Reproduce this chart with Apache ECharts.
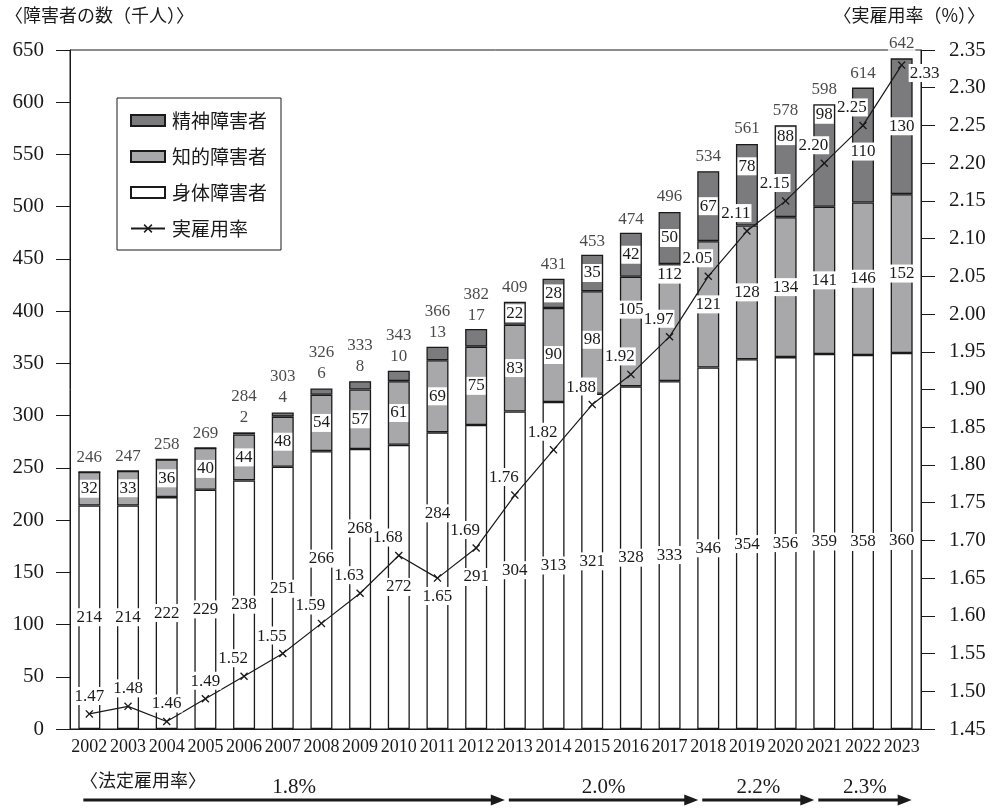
<!DOCTYPE html>
<html>
<head>
<meta charset="utf-8">
<script src="https://cdn.jsdelivr.net/npm/echarts@6.0.0/dist/echarts.min.js"></script>
<style>
  html, body { margin: 0; padding: 0; background: #fff; }
  #chart { width: 993px; height: 812px; }
</style>
</head>
<body>
<div id="chart"></div>
<script>
// 障害者の雇用状況（各年6月1日現在）
const years = ['2002','2003','2004','2005','2006','2007','2008','2009','2010','2011','2012',
               '2013','2014','2015','2016','2017','2018','2019','2020','2021','2022','2023'];
const physical     = [214,214,222,229,238,251,266,268,272,284,291,304,313,321,328,333,346,354,356,359,358,360];
const intellectual = [32,33,36,40,44,48,54,57,61,69,75,83,90,98,105,112,121,128,134,141,146,152];
const mental       = [0,0,0,0,2,4,6,8,10,13,17,22,28,35,42,50,67,78,88,98,110,130];
// 合計（千人、公表値。端数処理のため内訳の和と1違う年がある）
const totals       = [246,247,258,269,284,303,326,333,343,366,382,409,431,453,474,496,534,561,578,598,614,642];
const employmentRate = [1.47,1.48,1.46,1.49,1.52,1.55,1.59,1.63,1.68,1.65,1.69,1.76,1.82,1.88,1.92,1.97,2.05,2.11,2.15,2.20,2.25,2.33];

// 法定雇用率の区分
const legalRateLabels = ['1.8%','2.0%','2.2%','2.3%'];
const legalRateFrom   = ['2002','2013','2018','2021'];

// 軸の範囲
const countAxis = { min: 0, max: 650, interval: 50 };
const rateAxis  = { min: 1.45, max: 2.35, interval: 0.05 };

const seriesNames = { mental: '精神障害者', intellectual: '知的障害者', physical: '身体障害者', rate: '実雇用率' };

const NUM_FONT = '"Liberation Serif", "DejaVu Serif", serif';
const JP_FONT = '"Noto Sans CJK JP", "Noto Sans", sans-serif';
const INK = '#1a1a1a';

const GRID = { left: 70, right: 72, top: 50, bottom: 83 };
const chartDom = document.getElementById('chart');
const chart = echarts.init(chartDom, null, { renderer: 'canvas' });
const plotHeight = chart.getHeight() - GRID.top - GRID.bottom;
const pxPerUnit = plotHeight / (countAxis.max - countAxis.min);

// 実雇用率を人数軸の単位に換算（ラベルの重なり回避用）
const rateInCount = employmentRate.map(r =>
  (r - rateAxis.min) / (rateAxis.max - rateAxis.min) * (countAxis.max - countAxis.min) + countAxis.min);

// 区間 [lo, hi] の中央に置くラベルを、折れ線に重なる場合は上下にずらす
function segmentLabelOffset(lo, hi, i) {
  const c = (lo + hi) / 2;
  const ln = rateInCount[i];
  let t = c;
  if (c >= ln - 20 && c <= ln + 60) {
    const up = Math.min(ln + 62, hi - 10);
    if (up >= ln + 35) t = up;
    else t = Math.max(ln - 25, lo + 10);
  }
  return [0, -(t - c) * pxPerUnit];
}

const segLabelBase = {
  show: true,
  position: 'inside',
  color: INK,
  fontFamily: NUM_FONT,
  fontSize: 17,
  backgroundColor: '#fff',
  padding: [1, 1, 0, 1]
};

const physicalData = physical.map((v, i) => ({
  value: v,
  label: { offset: segmentLabelOffset(0, v, i) }
}));
const intellectualData = intellectual.map((v, i) => {
  const lo = physical[i];
  return { value: v, label: { offset: segmentLabelOffset(lo, lo + v, i) } };
});
const mentalData = mental.map((v, i) => {
  const lo = physical[i] + intellectual[i];
  const inside = v >= 20;
  return { value: v, label: inside ? { offset: segmentLabelOffset(lo, lo + v, i) } : { show: false } };
});

// 折れ線ラベル：急な落ち込みは下、最終年は右、他は左上
const rateData = employmentRate.map((r, i) => {
  let label;
  if (i === employmentRate.length - 1) {
    label = { position: 'right', offset: [-2, 8] };
  } else if (i > 0 && r < employmentRate[i - 1] - 0.025) {
    label = { position: 'bottom', offset: [0, 0] };
  } else {
    label = { position: 'top', offset: [i < 4 ? 0 : -11, 0] };
  }
  return { value: r, label };
});

const crossSymbol = 'path://M0,1.2 L1.2,0 L5,3.8 L8.8,0 L10,1.2 L6.2,5 L10,8.8 L8.8,10 L5,6.2 L1.2,10 L0,8.8 L3.8,5 Z';

const barBase = {
  type: 'bar',
  stack: 'people',
  barWidth: 22,
  yAxisIndex: 0,
  label: segLabelBase,
  emphasis: { disabled: true }
};

const option = {
  animation: false,
  backgroundColor: '#fff',
  textStyle: { fontFamily: NUM_FONT },
  grid: { left: GRID.left, right: GRID.right, top: GRID.top, bottom: GRID.bottom,
          show: true, borderColor: INK, borderWidth: 1, backgroundColor: 'transparent' },
  legend: {
    orient: 'vertical',
    left: 117,
    top: 98,
    width: 164,
    padding: [13, 14, 12, 13],
    borderColor: INK,
    borderWidth: 1,
    backgroundColor: '#fff',
    itemWidth: 34,
    itemHeight: 11,
    itemGap: 17,
    selectedMode: false,
    textStyle: { fontFamily: JP_FONT, fontSize: 19, color: INK, padding: [0, 0, 0, 2] },
    data: [
      { name: seriesNames.mental, icon: 'rect' },
      { name: seriesNames.intellectual, icon: 'rect' },
      { name: seriesNames.physical, icon: 'rect' },
      { name: seriesNames.rate }
    ]
  },
  xAxis: {
    type: 'category',
    data: years,
    axisLine: { lineStyle: { color: INK, width: 1 } },
    axisTick: { show: false },
    axisLabel: { color: INK, fontFamily: NUM_FONT, fontSize: 18, margin: 9, interval: 0 }
  },
  yAxis: [
    {
      type: 'value',
      min: countAxis.min, max: countAxis.max, interval: countAxis.interval,
      axisLine: { show: true, lineStyle: { color: INK, width: 1 } },
      axisTick: { show: true, inside: false, length: 14, lineStyle: { color: INK } },
      splitLine: { show: false },
      axisLabel: { color: INK, fontFamily: NUM_FONT, fontSize: 21, margin: 26 }
    },
    {
      type: 'value',
      position: 'right',
      min: rateAxis.min, max: rateAxis.max, interval: rateAxis.interval,
      axisLine: { show: true, lineStyle: { color: INK, width: 1 } },
      axisTick: { show: true, inside: false, length: 14, lineStyle: { color: INK } },
      splitLine: { show: false },
      axisLabel: { color: INK, fontFamily: NUM_FONT, fontSize: 21, margin: 28,
                   formatter: v => v.toFixed(2) }
    }
  ],
  series: [
    Object.assign({}, barBase, {
      name: seriesNames.physical,
      data: physicalData,
      itemStyle: { color: '#ffffff', borderColor: INK, borderWidth: 1.3 }
    }),
    Object.assign({}, barBase, {
      name: seriesNames.intellectual,
      data: intellectualData,
      itemStyle: { color: '#a8a8aa', borderColor: INK, borderWidth: 1.3 }
    }),
    Object.assign({}, barBase, {
      name: seriesNames.mental,
      data: mentalData,
      itemStyle: { color: '#7b7b7e', borderColor: INK, borderWidth: 1.3 }
    }),
    {
      // 合計人数（小さい精神障害者数は合計の下に併記）
      name: '合計',
      type: 'scatter',
      yAxisIndex: 0,
      data: totals,
      symbolSize: 0.1,
      itemStyle: { color: 'rgba(0,0,0,0)' },
      silent: true,
      z: 4,
      label: {
        show: true,
        position: 'top',
        distance: 4,
        color: INK,
        fontFamily: NUM_FONT,
        fontSize: 17,
        lineHeight: 21,
        backgroundColor: '#fff',
        padding: [0, 1, 0, 1],
        formatter: p => {
          const m = mental[p.dataIndex];
          return (m > 0 && m < 20) ? p.value + '\n' + m : String(p.value);
        }
      }
    },
    {
      name: seriesNames.rate,
      type: 'line',
      yAxisIndex: 1,
      data: rateData,
      z: 5,
      symbol: crossSymbol,
      symbolSize: 8,
      lineStyle: { color: INK, width: 1.2 },
      itemStyle: { color: INK },
      label: {
        show: true,
        color: INK,
        fontFamily: NUM_FONT,
        fontSize: 17,
        distance: 5,
        backgroundColor: '#fff',
        padding: [1, 1, 0, 1],
        formatter: p => p.value.toFixed(2)
      },
      emphasis: { disabled: true }
    }
  ]
};

chart.setOption(option);

// 軸見出しと法定雇用率の矢印
function buildGraphics() {
  const cx = y => chart.convertToPixel({ xAxisIndex: 0 }, y);
  const g = [
    { type: 'text', left: 5, top: 6,
      style: { text: '〈障害者の数（千人）〉', font: '18px ' + JP_FONT, fill: INK } },
    { type: 'text', right: 8, top: 6,
      style: { text: '〈実雇用率（%）〉', font: '18px ' + JP_FONT, fill: INK } },
    { type: 'text', left: 80, top: 771,
      style: { text: '〈法定雇用率〉', font: '18px ' + JP_FONT, fill: INK } }
  ];
  const arrowY = 800;
  const lastX = cx(years[years.length - 1]);
  legalRateFrom.forEach((from, k) => {
    const x1 = cx(from) - 6;
    const x2 = k < legalRateFrom.length - 1 ? cx(legalRateFrom[k + 1]) - 10 : lastX + 10;
    g.push({ type: 'line', silent: true,
             shape: { x1: x1, y1: arrowY, x2: x2 - 10, y2: arrowY },
             style: { stroke: INK, lineWidth: 3 } });
    g.push({ type: 'polygon', silent: true,
             shape: { points: [[x2 - 14, arrowY - 5.5], [x2, arrowY], [x2 - 14, arrowY + 5.5]] },
             style: { fill: INK } });
    g.push({ type: 'text', silent: true,
             x: (x1 + x2) / 2, y: 787,
             style: { text: legalRateLabels[k], font: '21px ' + NUM_FONT, fill: INK,
                      textAlign: 'center', textVerticalAlign: 'middle',
                      align: 'center', verticalAlign: 'middle' } });
  });
  chart.setOption({ graphic: g });
}
buildGraphics();
</script>
</body>
</html>
